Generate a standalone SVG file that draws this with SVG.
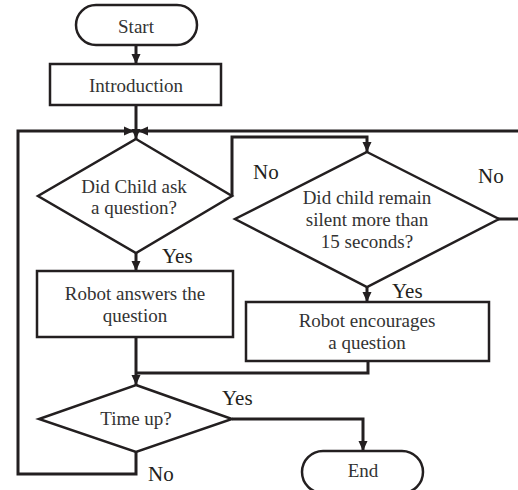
<svg xmlns="http://www.w3.org/2000/svg" width="518" height="490" viewBox="0 0 518 490">
<style>
.shape{fill:#fff;stroke:#231f20;stroke-width:2.5}
.line{fill:none;stroke:#231f20;stroke-width:3}
.t{font-family:"Liberation Serif","Times New Roman",serif;font-size:19px;fill:#333;text-anchor:middle}
.lab{font-family:"Liberation Serif","Times New Roman",serif;font-size:21px;fill:#231f20}
</style>
<defs>
<marker id="ah" markerUnits="userSpaceOnUse" markerWidth="10" markerHeight="10" viewBox="0 0 10 10" refX="10" refY="5" orient="auto">
<path d="M0,0.5 L10,5 L0,9.5 Z" fill="#231f20"/>
</marker>
</defs>
<rect width="518" height="490" fill="#fff"/>
<g id="connectors">
<line class="line" x1="136" y1="46" x2="136" y2="64" marker-end="url(#ah)"/>
<line class="line" x1="136" y1="105" x2="136" y2="139" marker-end="url(#ah)"/>
<polyline class="line" points="136,452 136,474 18,474 18,131 134,131" marker-end="url(#ah)"/>
<polyline class="line" points="518,131 138,131" marker-end="url(#ah)"/>
<polyline class="line" points="232,196 232,137 367,137 367,152" marker-end="url(#ah)"/>
<line class="line" x1="498" y1="219" x2="518" y2="219"/>
<line class="line" x1="136" y1="253" x2="136" y2="271" marker-end="url(#ah)"/>
<line class="line" x1="367" y1="287" x2="367" y2="302" marker-end="url(#ah)"/>
<line class="line" x1="136" y1="337" x2="136" y2="385" marker-end="url(#ah)"/>
<polyline class="line" points="368,361 368,373 136,373"/>
<polyline class="line" points="232,419 363,419 363,451" marker-end="url(#ah)"/>
</g>
<g id="start">
<rect class="shape" x="76" y="5" width="121" height="40" rx="20"/>
<text class="t" x="136" y="33">Start</text>
</g>
<g id="intro">
<rect class="shape" x="50" y="64" width="171" height="41"/>
<text class="t" x="136" y="92">Introduction</text>
</g>
<g id="q1">
<polygon class="shape" points="136,139 232,196 136,253 38,196"/>
<text class="t" x="134" y="193">Did Child ask</text>
<text class="t" x="134" y="214">a question?</text>
</g>
<g id="q2">
<polygon class="shape" points="367,152 499,219 367,287 235,219"/>
<text class="t" x="367" y="204">Did child remain</text>
<text class="t" x="367" y="226">silent more than</text>
<text class="t" x="367" y="248">15 seconds?</text>
</g>
<g id="answer">
<rect class="shape" x="37" y="271" width="196" height="66"/>
<text class="t" x="135" y="300">Robot answers the</text>
<text class="t" x="135" y="322">question</text>
</g>
<g id="encourage">
<rect class="shape" x="246" y="302" width="243" height="59"/>
<text class="t" x="367" y="327">Robot encourages</text>
<text class="t" x="367" y="349">a question</text>
</g>
<g id="timeup">
<polygon class="shape" points="136,385 232,419 136,452 39,419"/>
<text class="t" x="136" y="425">Time up?</text>
</g>
<g id="end">
<rect class="shape" x="302" y="451" width="121" height="42" rx="21"/>
<text class="t" x="363" y="477">End</text>
</g>
<g id="labels">
<text class="lab" x="253" y="179">No</text>
<text class="lab" x="478" y="183">No</text>
<text class="lab" x="162" y="263">Yes</text>
<text class="lab" x="392" y="298">Yes</text>
<text class="lab" x="222" y="405">Yes</text>
<text class="lab" x="148" y="481">No</text>
</g>
</svg>
